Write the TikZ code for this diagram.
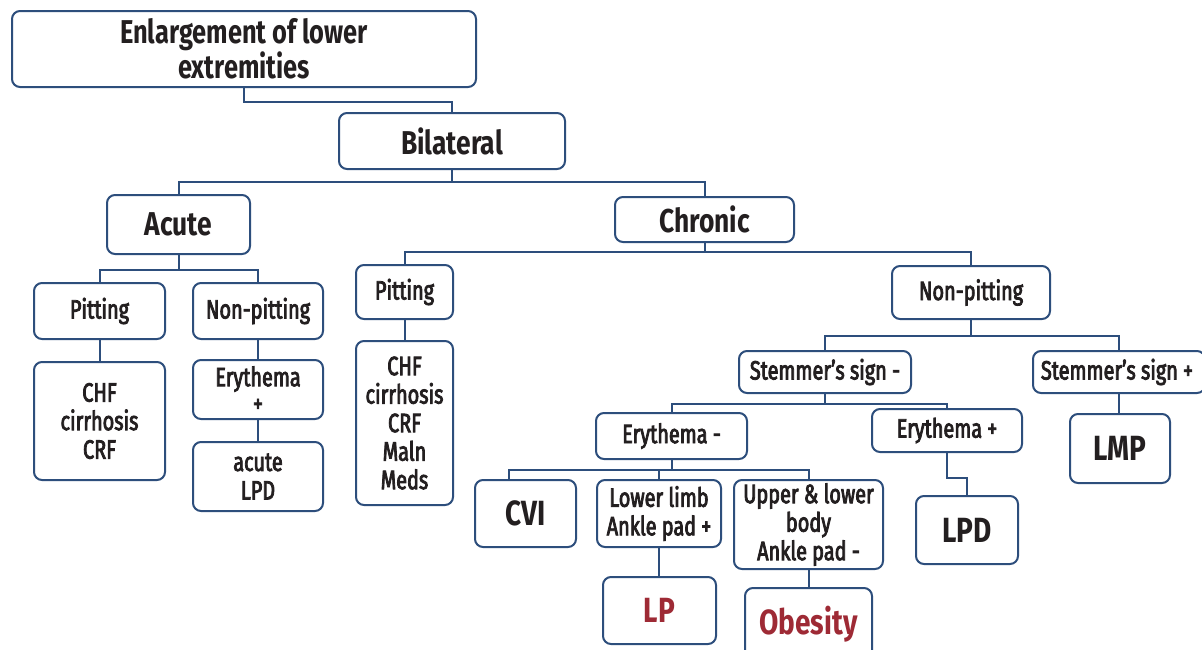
\documentclass[tikz,border=0pt]{standalone}
\usepackage{fontspec}
\setmainfont{Fira Sans}[FakeStretch=0.8]
\newfontfamily\medf{Fira Sans}[FakeStretch=0.75, FakeBold=3]
\newfontfamily\topf{Fira Sans Bold}[FakeStretch=0.77]
\definecolor{lineblue}{HTML}{2D4E7C}
\definecolor{txt}{HTML}{231F20}
\definecolor{redtxt}{HTML}{9E2A35}
\tikzset{
  box/.style={draw=lineblue, line width=2pt, rounded corners=8pt, fill=white,
    inner sep=0pt, align=center, text=txt},
  bigt/.style={font=\bfseries\fontsize{33}{34}\selectfont},
  topt/.style={font=\topf\fontsize{33}{34}\selectfont},
  medt/.style={font=\medf\fontsize{26.5}{28.5}\selectfont},
  fint/.style={font=\bfseries\fontsize{35}{36}\selectfont},
  conn/.style={draw=lineblue, line width=2pt},
}
\begin{document}
\begin{tikzpicture}[x=1pt, y=-1pt]
\clip (0,0) rectangle (1202,649);
\fill[white] (0,0) rectangle (1202,649);
% boxes
\node[box, topt, minimum width=464pt, minimum height=76pt] (top) at (244,49) {Enlargement of lower\\extremities};
\node[box, bigt, minimum width=226pt, minimum height=56pt] (bil) at (452,141) {Bilateral};
\node[box, bigt, minimum width=143pt, minimum height=59pt] (acute) at (178.5,224.5) {Acute};
\node[box, bigt, minimum width=179pt, minimum height=45pt] (chronic) at (704.5,219.5) {Chronic};
\node[box, medt, minimum width=131pt, minimum height=56pt] (apit) at (99.5,311) {Pitting};
\node[box, medt, minimum width=130pt, minimum height=56pt] (anon) at (258,311) {Non-pitting};
\node[box, medt, minimum width=131pt, minimum height=118pt] (achf) at (99.5,421) {CHF\\cirrhosis\\CRF};
\node[box, medt, minimum width=130pt, minimum height=59pt] (aery) at (258,389.5) {Erythema\\[-2pt]+};
\node[box, medt, minimum width=130pt, minimum height=69pt] (alpd) at (258,476.5) {acute\\LPD};
\node[box, medt, minimum width=97pt, minimum height=54pt] (cpit) at (404.5,292) {Pitting};
\node[box, medt, minimum width=97pt, minimum height=164pt] (cchf) at (404.5,423) {CHF\\cirrhosis\\CRF\\Maln\\Meds};
\node[box, medt, minimum width=158pt, minimum height=53pt] (cnon) at (971,292.5) {Non-pitting};
\node[box, medt, minimum width=172pt, minimum height=42pt] (sminus) at (825,372) {Stemmer’s sign -};
\node[box, medt, minimum width=172pt, minimum height=42pt] (splus) at (1119,372) {\hspace*{-4pt}Stemmer’s sign +};
\node[box, medt, minimum width=151pt, minimum height=46pt] (eminus) at (671.5,436) {Erythema -};
\node[box, medt, minimum width=150pt, minimum height=43pt] (eplus) at (947,430.5) {Erythema +};
\node[box, fint, minimum width=100pt, minimum height=69pt] (lmp) at (1120,448.5) {LMP};
\node[box, fint, minimum width=101pt, minimum height=67pt] (cvi) at (525.5,513.5) {CVI};
\node[box, medt, minimum width=124pt, minimum height=67pt] (lower) at (659,513.5) {Lower limb\\Ankle pad +};
\node[box, medt, minimum width=149pt, minimum height=89pt] (upper) at (808.5,524.5) {Upper \& lower\\body\\Ankle pad -};
\node[box, fint, text=redtxt, minimum width=113pt, minimum height=67pt] (lp) at (659.5,610.5) {LP};
\node[box, fint, text=redtxt, minimum width=127pt, minimum height=72pt] (obesity) at (808.5,624) {Obesity};
\node[box, fint, minimum width=102pt, minimum height=68pt] (lpd) at (967,530) {LPD};
% connectors
\draw[conn] (top.south) -- ++(0,14) -| (bil.north);
\draw[conn] (bil.south) -- ++(0,12) coordinate (b1);
\draw[conn] (b1) -| (acute.north);
\draw[conn] (b1) -| (chronic.north);
\draw[conn] (acute.south) -- ++(0,14.5) coordinate (a1);
\draw[conn] (a1) -| (apit.north);
\draw[conn] (a1) -| (anon.north);
\draw[conn] (apit.south) -- (achf.north);
\draw[conn] (anon.south) -- (aery.north);
\draw[conn] (aery.south) -- (alpd.north);
\draw[conn] (chronic.south) -- ++(0,9) coordinate (c1);
\draw[conn] (c1) -| (cpit.north);
\draw[conn] (c1) -| (cnon.north);
\draw[conn] (cpit.south) -- (cchf.north);
\draw[conn] (cnon.south) -- ++(0,16) coordinate (n1);
\draw[conn] (n1) -| (sminus.north);
\draw[conn] (n1) -| (splus.north);
\draw[conn] (sminus.south) -- ++(0,10) coordinate (s1);
\draw[conn] (s1) -| (eminus.north);
\draw[conn] (s1) -| (eplus.north);
\draw[conn] (splus.south) -- (splus.south |- lmp.north);
\draw[conn] (eplus.south) -- ++(0,25) -| (lpd.north);
\draw[conn] (eminus.south) -- ++(0,10) coordinate (e1);
\draw[conn] (e1) -| ([xshift=-16.5pt]cvi.north);
\draw[conn] (e1) -| (lower.north);
\draw[conn] (e1) -| (upper.north);
\draw[conn] (lower.south) -- (lower.south |- lp.north);
\draw[conn] (upper.south) -- (obesity.north);
\end{tikzpicture}
\end{document}
